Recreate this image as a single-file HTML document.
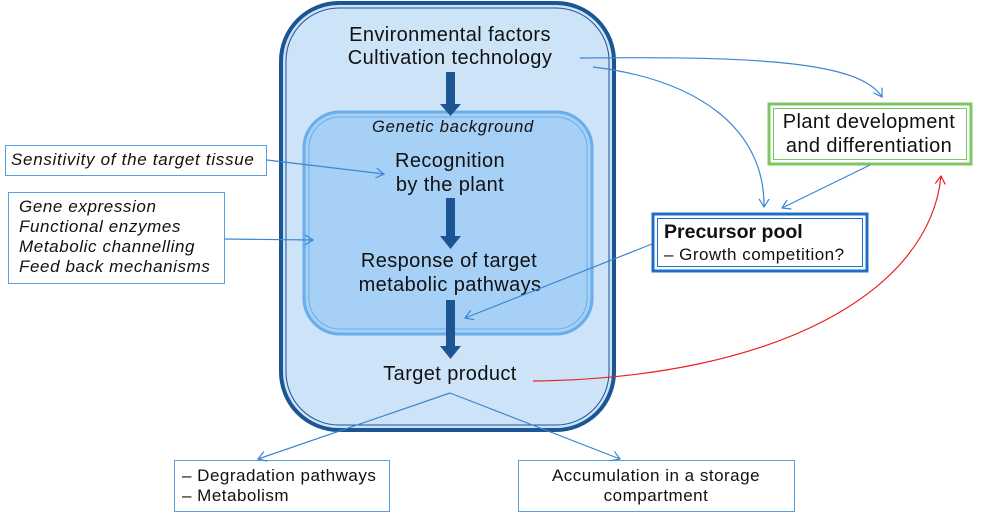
<!DOCTYPE html>
<html><head><meta charset="utf-8"><style>
html,body{margin:0;padding:0;background:#fff;}
svg{display:block;}
text{font-family:"Liberation Sans",sans-serif;fill:#111;}
.it{font-style:italic;}
</style></head><body>
<svg width="1000" height="513" viewBox="0 0 1000 513" xmlns="http://www.w3.org/2000/svg">
<defs>
<marker id="oa" markerWidth="12" markerHeight="12" refX="9" refY="6" orient="auto" markerUnits="userSpaceOnUse">
<path d="M1,1 L9,6 L1,11" fill="none" stroke="#3a86d4" stroke-width="1.2"/></marker>
<marker id="ra" markerWidth="12" markerHeight="12" refX="9" refY="6" orient="auto" markerUnits="userSpaceOnUse">
<path d="M1,1 L9,6 L1,11" fill="none" stroke="#e82020" stroke-width="1.2"/></marker>
</defs>
<rect x="281" y="3" width="333" height="427" rx="58" fill="#cce3f8" stroke="#1b5594" stroke-width="4"/>
<rect x="286" y="8" width="323" height="417" rx="53" fill="none" stroke="#1b5594" stroke-width="1"/>
<rect x="304" y="112" width="288" height="222" rx="36" fill="#a6d0f5" stroke="#68aeea" stroke-width="3"/>
<rect x="309" y="117" width="278" height="212" rx="31" fill="none" stroke="#68aeea" stroke-width="1"/>
<g fill="#1b5594">
<rect x="446" y="72" width="9" height="36"/><path d="M440,104 L461,104 L450.5,116 Z"/>
<rect x="446" y="198" width="9" height="42"/><path d="M440,236 L461,236 L450.5,249 Z"/>
<rect x="446" y="300" width="9" height="50"/><path d="M440,346 L461,346 L450.5,359 Z"/>
</g>
<g font-size="20" letter-spacing="0.4" text-anchor="middle">
<text x="450" y="41">Environmental factors</text>
<text x="450" y="64">Cultivation technology</text>
<text x="450" y="167">Recognition</text>
<text x="450" y="191">by the plant</text>
<text x="449" y="267">Response of target</text>
<text x="450" y="291">metabolic pathways</text>
<text x="450" y="380">Target product</text>
</g>
<text x="453" y="132" font-size="16.5" letter-spacing="0.8" text-anchor="middle" class="it">Genetic background</text>
<rect x="5.5" y="145.5" width="261" height="30" fill="#fff" stroke="#5b9ee0" stroke-width="1"/>
<text x="11" y="165" font-size="17" letter-spacing="0.7" class="it">Sensitivity of the target tissue</text>
<rect x="8.5" y="192.5" width="216" height="91" fill="#fff" stroke="#5b9ee0" stroke-width="1"/>
<text class="it" font-size="17" letter-spacing="0.6"><tspan x="19" y="212">Gene expression</tspan><tspan x="19" y="232">Functional enzymes</tspan><tspan x="19" y="252">Metabolic channelling</tspan><tspan x="19" y="272">Feed back mechanisms</tspan></text>
<rect x="769" y="104" width="202" height="60" fill="#fff" stroke="#7cc663" stroke-width="3"/>
<rect x="773.5" y="108.5" width="193" height="51" fill="none" stroke="#7cc663" stroke-width="1"/>
<text x="869" y="128" font-size="20" letter-spacing="0.4" text-anchor="middle">Plant development</text>
<text x="869" y="152" font-size="20" letter-spacing="0.4" text-anchor="middle">and differentiation</text>
<rect x="653" y="214" width="214" height="57" fill="#fff" stroke="#1c6fc4" stroke-width="3"/>
<rect x="657.5" y="218.5" width="205" height="48" fill="none" stroke="#1c6fc4" stroke-width="1"/>
<text x="664" y="238" font-size="19.5" font-weight="bold">Precursor pool</text>
<text x="664" y="260" font-size="17" letter-spacing="0.5">– Growth competition?</text>
<rect x="174.5" y="460.5" width="215" height="51" fill="#fff" stroke="#5b9ee0" stroke-width="1"/>
<text font-size="17" letter-spacing="0.5"><tspan x="182" y="481">– Degradation pathways</tspan><tspan x="182" y="501">– Metabolism</tspan></text>
<rect x="518.5" y="460.5" width="276" height="51" fill="#fff" stroke="#5b9ee0" stroke-width="1"/>
<text x="656" y="481" font-size="17" letter-spacing="0.5" text-anchor="middle">Accumulation in a storage</text>
<text x="656" y="501" font-size="17" letter-spacing="0.5" text-anchor="middle">compartment</text>
<g fill="none" stroke="#3a86d4" stroke-width="1.2">
<path d="M267,160 L384,174" marker-end="url(#oa)"/>
<path d="M225,239 L313,240" marker-end="url(#oa)"/>
<path d="M580,58 C760,56 860,62 882,97" marker-end="url(#oa)"/>
<path d="M593,67 C700,80 765,130 764,207" marker-end="url(#oa)"/>
<path d="M870,165 L782,208" marker-end="url(#oa)"/>
<path d="M652,244 L465,318" marker-end="url(#oa)"/>
<path d="M450,393 L258,459" marker-end="url(#oa)"/>
<path d="M450,393 L620,459" marker-end="url(#oa)"/>
</g>
<path d="M533,381 C780,378 930,290 941,176" fill="none" stroke="#e82020" stroke-width="1.2" marker-end="url(#ra)"/>
</svg>
</body></html>
